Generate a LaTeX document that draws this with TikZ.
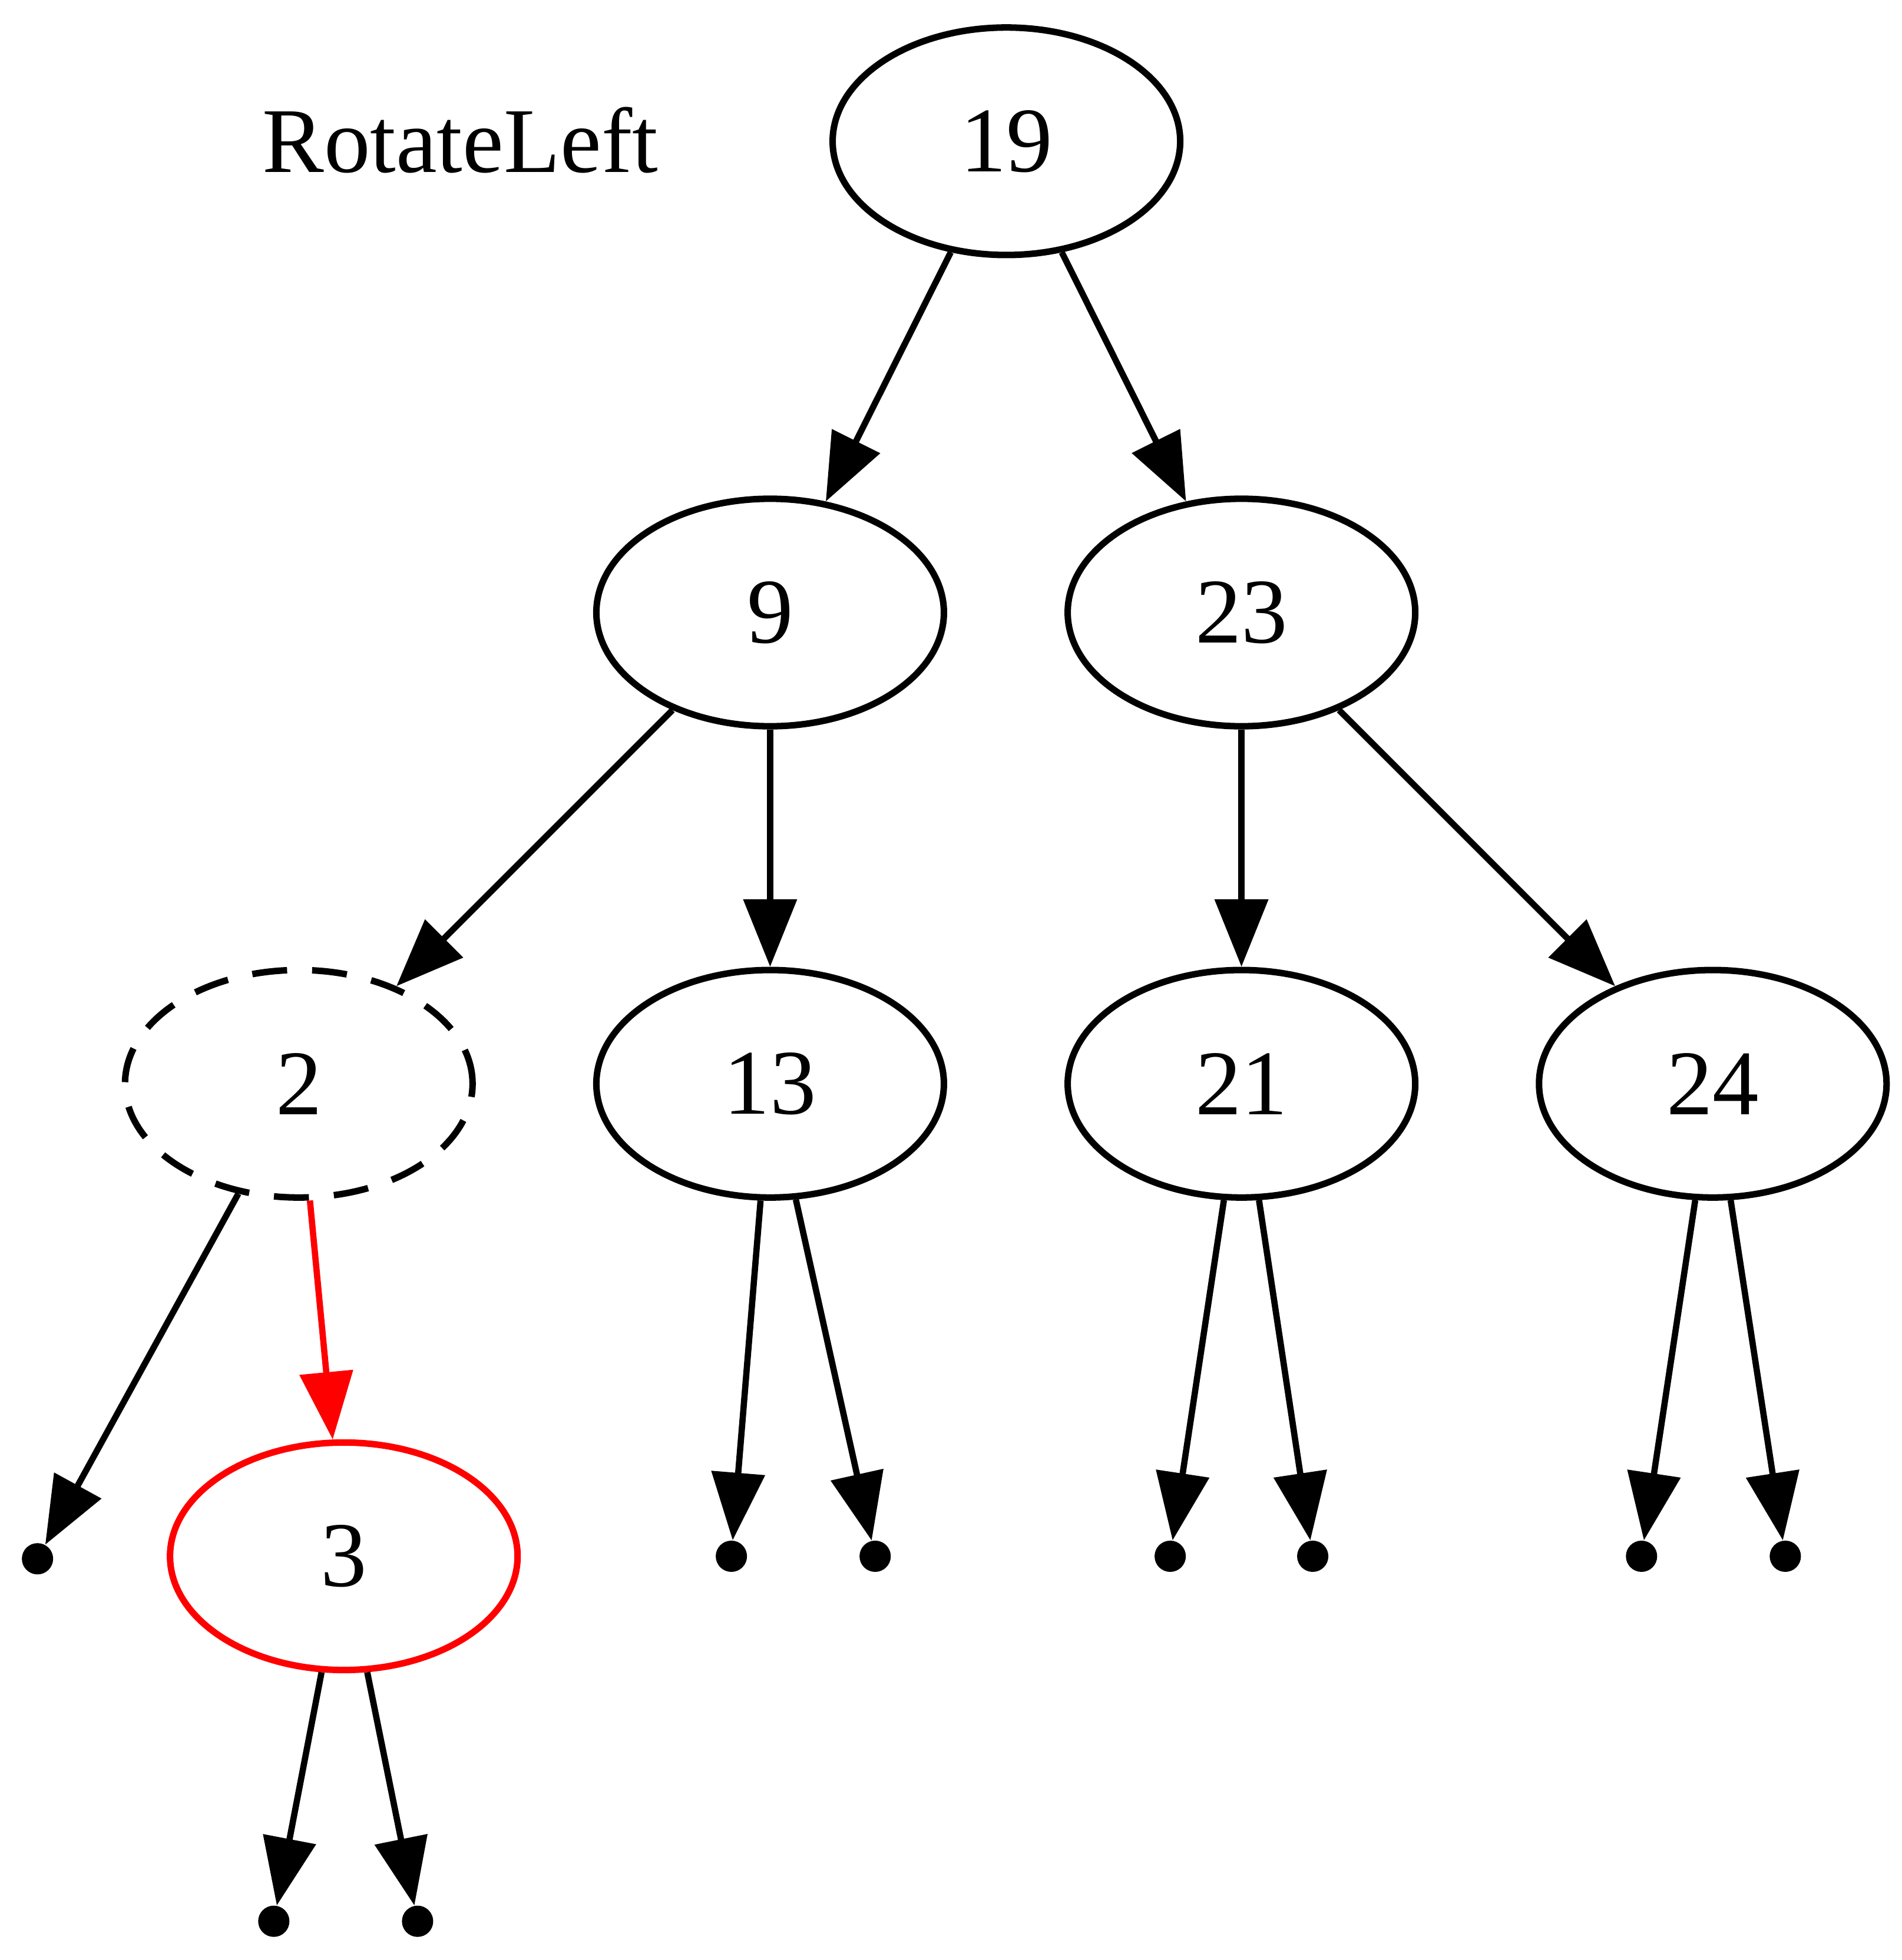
\documentclass[tikz,border=0pt]{standalone}
\usepackage{fontspec}
\setmainfont{Liberation Serif}
\usetikzlibrary{shapes.geometric,arrows.meta}
\begin{document}
\begin{tikzpicture}[x=0.5pt,y=-0.5pt,
  tnode/.style={ellipse,draw,line width=2.6pt,minimum width=139pt,minimum height=91pt,inner sep=0pt,font=\fontsize{37}{44}\selectfont},
  leaf/.style={circle,fill,inner sep=0pt,minimum size=12.5pt},
  arr/.style={line width=2.5pt,-{Triangle[length=27pt,width=21pt]}},
  dashnode/.style={dash pattern=on 14pt off 10pt},
  ]
\useasboundingbox (0,0) rectangle (1521,1568);
\node[font=\fontsize{37}{44}\selectfont,inner sep=0pt] (title) at (368,112) {RotateLeft};
\node[tnode] (n19) at (805,113) {19};
\node[tnode] (n9) at (616,490) {9};
\node[tnode] (n23) at (993,490) {23};
\node[tnode,dashnode] (n2) at (239,867) {2};
\node[tnode] (n13) at (616,867) {13};
\node[tnode] (n21) at (993,867) {21};
\node[tnode] (n24) at (1370,867) {24};
\node[tnode,draw=red] (n3) at (275,1245) {3};
\node[leaf] (p2a) at (30,1247) {};
\node[leaf] (p13a) at (585,1245) {};
\node[leaf] (p13b) at (700,1245) {};
\node[leaf] (p21a) at (936,1245) {};
\node[leaf] (p21b) at (1050,1245) {};
\node[leaf] (p24a) at (1313,1245) {};
\node[leaf] (p24b) at (1428,1245) {};
\node[leaf] (p3a) at (219,1537) {};
\node[leaf] (p3b) at (334,1537) {};
\draw[arr] (n19) -- (n9);
\draw[arr] (n19) -- (n23);
\draw[arr] (n9) -- (n2);
\draw[arr] (n9) -- (n13);
\draw[arr] (n23) -- (n21);
\draw[arr] (n23) -- (n24);
\draw[arr] (n2) -- (p2a);
\draw[arr,red] (n2) -- (n3);
\draw[arr] (n13) -- (p13a);
\draw[arr] (n13) -- (p13b);
\draw[arr] (n21) -- (p21a);
\draw[arr] (n21) -- (p21b);
\draw[arr] (n24) -- (p24a);
\draw[arr] (n24) -- (p24b);
\draw[arr] (n3) -- (p3a);
\draw[arr] (n3) -- (p3b);
\end{tikzpicture}
\end{document}
